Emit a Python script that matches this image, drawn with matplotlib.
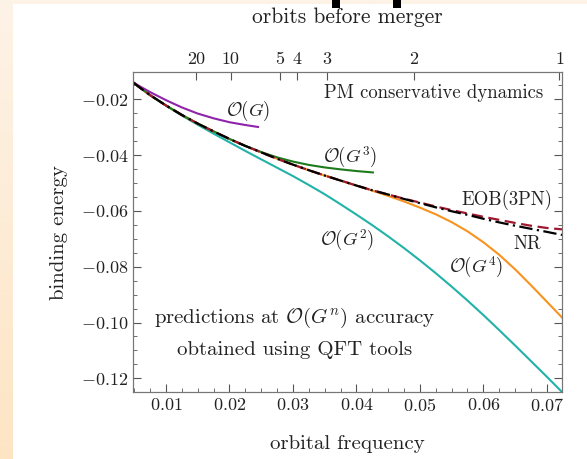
import numpy as np
import matplotlib
matplotlib.use('Agg')
import matplotlib.pyplot as plt
from matplotlib.patches import Rectangle
from matplotlib.ticker import MultipleLocator

plt.rcParams['font.family'] = 'serif'
plt.rcParams['font.serif'] = ['cmr10']
plt.rcParams['mathtext.fontset'] = 'cm'
plt.rcParams['axes.formatter.use_mathtext'] = True

# orbital frequency grid
freq = [0.0048, 0.006, 0.0075, 0.01, 0.0125, 0.015, 0.0175, 0.02, 0.0225, 0.025,
        0.0275, 0.03, 0.0325, 0.035, 0.0375, 0.04, 0.0425, 0.045, 0.0475, 0.05,
        0.0525, 0.055, 0.0575, 0.06, 0.0625, 0.065, 0.0675, 0.07, 0.0724]

# NR and EOB(3PN) binding energy
nr = [-0.0139, -0.0160, -0.0185, -0.0222, -0.0256, -0.0287, -0.0315, -0.0342, -0.0367,
      -0.0390, -0.0413, -0.0434, -0.0454, -0.0473, -0.0491, -0.0509, -0.0526, -0.0541,
      -0.0557, -0.0572, -0.0587, -0.0601, -0.0614, -0.0628, -0.0641, -0.0653, -0.0664,
      -0.0675, -0.0686]
eob = [-0.0139, -0.0160, -0.0185, -0.0222, -0.0256, -0.0287, -0.0315, -0.0342, -0.0367,
       -0.0390, -0.0413, -0.0434, -0.0454, -0.0473, -0.0491, -0.0509, -0.0526, -0.0541,
       -0.0556, -0.0570, -0.0584, -0.0597, -0.0609, -0.0621, -0.0632, -0.0643, -0.0653,
       -0.0661, -0.0666]

# PM predictions
freq_g1 = [0.0048, 0.006, 0.0075, 0.01, 0.0125, 0.015, 0.0175, 0.02, 0.0225, 0.0245]
g1 = [-0.0139, -0.0155, -0.0174, -0.0203, -0.0229, -0.0251, -0.0268, -0.0282, -0.0292,
      -0.0299]

g2 = [-0.0139, -0.0160, -0.0185, -0.0223, -0.0258, -0.0291, -0.0323, -0.0354, -0.0385,
      -0.0415, -0.0445, -0.0475, -0.0507, -0.0540, -0.0576, -0.0613, -0.0651, -0.0691,
      -0.0733, -0.0777, -0.0823, -0.0871, -0.0921, -0.0973, -0.1027, -0.1082, -0.1138,
      -0.1194, -0.1249]

freq_g3 = [0.0048, 0.006, 0.0075, 0.01, 0.0125, 0.015, 0.0175, 0.02, 0.0225, 0.025,
           0.0275, 0.03, 0.0325, 0.035, 0.0375, 0.04, 0.0426]
g3 = [-0.0139, -0.0160, -0.0185, -0.0222, -0.0256, -0.0287, -0.0315, -0.0342, -0.0367,
      -0.0389, -0.0408, -0.0423, -0.0435, -0.0444, -0.0451, -0.0457, -0.0462]

g4 = [-0.0139, -0.0160, -0.0185, -0.0222, -0.0256, -0.0287, -0.0315, -0.0342, -0.0367,
      -0.0390, -0.0413, -0.0434, -0.0454, -0.0473, -0.0491, -0.0509, -0.0527, -0.0546,
      -0.0566, -0.0588, -0.0612, -0.0640, -0.0673, -0.0712, -0.0757, -0.0809, -0.0866,
      -0.0925, -0.0982]

# top axis: orbits before merger
orbit_freq = [0.0147, 0.0202, 0.0279, 0.0307, 0.0353, 0.0490, 0.0720]
orbit_labels = ['20', '10', '5', '4', '3', '2', '1']

fig = plt.figure(figsize=(5.87, 4.59), dpi=100)

# slide background: peach strip on the left and top, white page
bg = fig.add_axes([0, 0, 1, 1], zorder=-10)
grad = np.linspace(0, 1, 256).reshape(-1, 1)
bg.imshow(grad, extent=(0, 1, 0, 1), aspect='auto', origin='upper',
          cmap=matplotlib.colors.LinearSegmentedColormap.from_list('p', ['#fdf3e7', '#fde5c4']))
bg.add_patch(Rectangle((13 / 587, 0), 1, (459 - 4) / 459, facecolor='white', edgecolor='none'))
bg.add_patch(Rectangle((332 / 587, (459 - 8) / 459), 8 / 587, 8 / 459, facecolor='black'))
bg.add_patch(Rectangle((393 / 587, (459 - 8) / 459), 8 / 587, 8 / 459, facecolor='black'))
bg.set_xlim(0, 1)
bg.set_ylim(0, 1)
bg.axis('off')

ax = fig.add_axes([133 / 587, 67 / 459, 429 / 587, 320 / 459])
ax.set_facecolor('white')

ax.plot(freq, g2, color='#22b2a8', lw=1.5)
ax.plot(freq, g4, color='#f7931e', lw=1.5)
ax.plot(freq_g3, g3, color='#1d7a1d', lw=1.5)
ax.plot(freq_g1, g1, color='#8e24aa', lw=1.5)
ax.plot(freq, eob, color='#a01830', lw=1.6, ls=(0, (5, 2.5)))
ax.plot(freq, nr, color='black', lw=1.6, ls=(0, (6, 2, 1, 2)))

ax.set_xlim(0.0048, 0.0724)
ax.set_ylim(-0.1249, -0.0102)

ax.xaxis.set_major_locator(MultipleLocator(0.01))
ax.xaxis.set_minor_locator(MultipleLocator(0.0025))
ax.yaxis.set_major_locator(MultipleLocator(0.02))
ax.yaxis.set_minor_locator(MultipleLocator(0.005))
ax.tick_params(which='both', direction='in', right=True, top=False, colors='#555555',
               labelcolor='#222222', labelsize=13)
ax.tick_params(which='major', length=6)
ax.tick_params(which='minor', length=3)
for s in ax.spines.values():
    s.set_color('#777777')

ax.set_xlabel('orbital frequency', fontsize=15, color='#222222', labelpad=15)
ax.set_ylabel('binding energy', fontsize=15, color='#222222', labelpad=9)

ax2 = ax.twiny()
ax2.set_xlim(ax.get_xlim())
ax2.set_xticks(orbit_freq)
ax2.set_xticklabels(orbit_labels)
ax2.tick_params(direction='in', length=6, colors='#555555', labelcolor='#222222',
                labelsize=13)
ax2.set_xlabel('orbits before merger', fontsize=15.5, color='#222222', labelpad=21)
for s in ax2.spines.values():
    s.set_color('#777777')

tc = '#222222'
ax.text(0.956, 0.934, 'PM conservative dynamics', transform=ax.transAxes, ha='right',
        va='center', fontsize=13.5, color=tc)
ax.text(0.0229, -0.0240, r'$\mathcal{O}(G)$', ha='center', va='center', fontsize=13.5, color=tc)
ax.text(0.0390, -0.0410, r'$\mathcal{O}(G^3)$', ha='center', va='center', fontsize=13.5, color=tc)
ax.text(0.0385, -0.0704, r'$\mathcal{O}(G^2)$', ha='center', va='center', fontsize=13.5, color=tc)
ax.text(0.0588, -0.0804, r'$\mathcal{O}(G^4)$', ha='center', va='center', fontsize=13.5, color=tc)
ax.text(0.0709, -0.0561, 'EOB(3PN)', ha='right', va='center', fontsize=13.5, color=tc)
ax.text(0.0669, -0.0719, 'NR', ha='center', va='center', fontsize=13.5, color=tc)
ax.text(0.0303, -0.0984, r'predictions at $\mathcal{O}(G^n)$ accuracy', ha='center',
        va='center', fontsize=15, color=tc)
ax.text(0.0303, -0.1099, 'obtained using QFT tools', ha='center', va='center',
        fontsize=15, color=tc)

fig.savefig('out.png', dpi=100)
